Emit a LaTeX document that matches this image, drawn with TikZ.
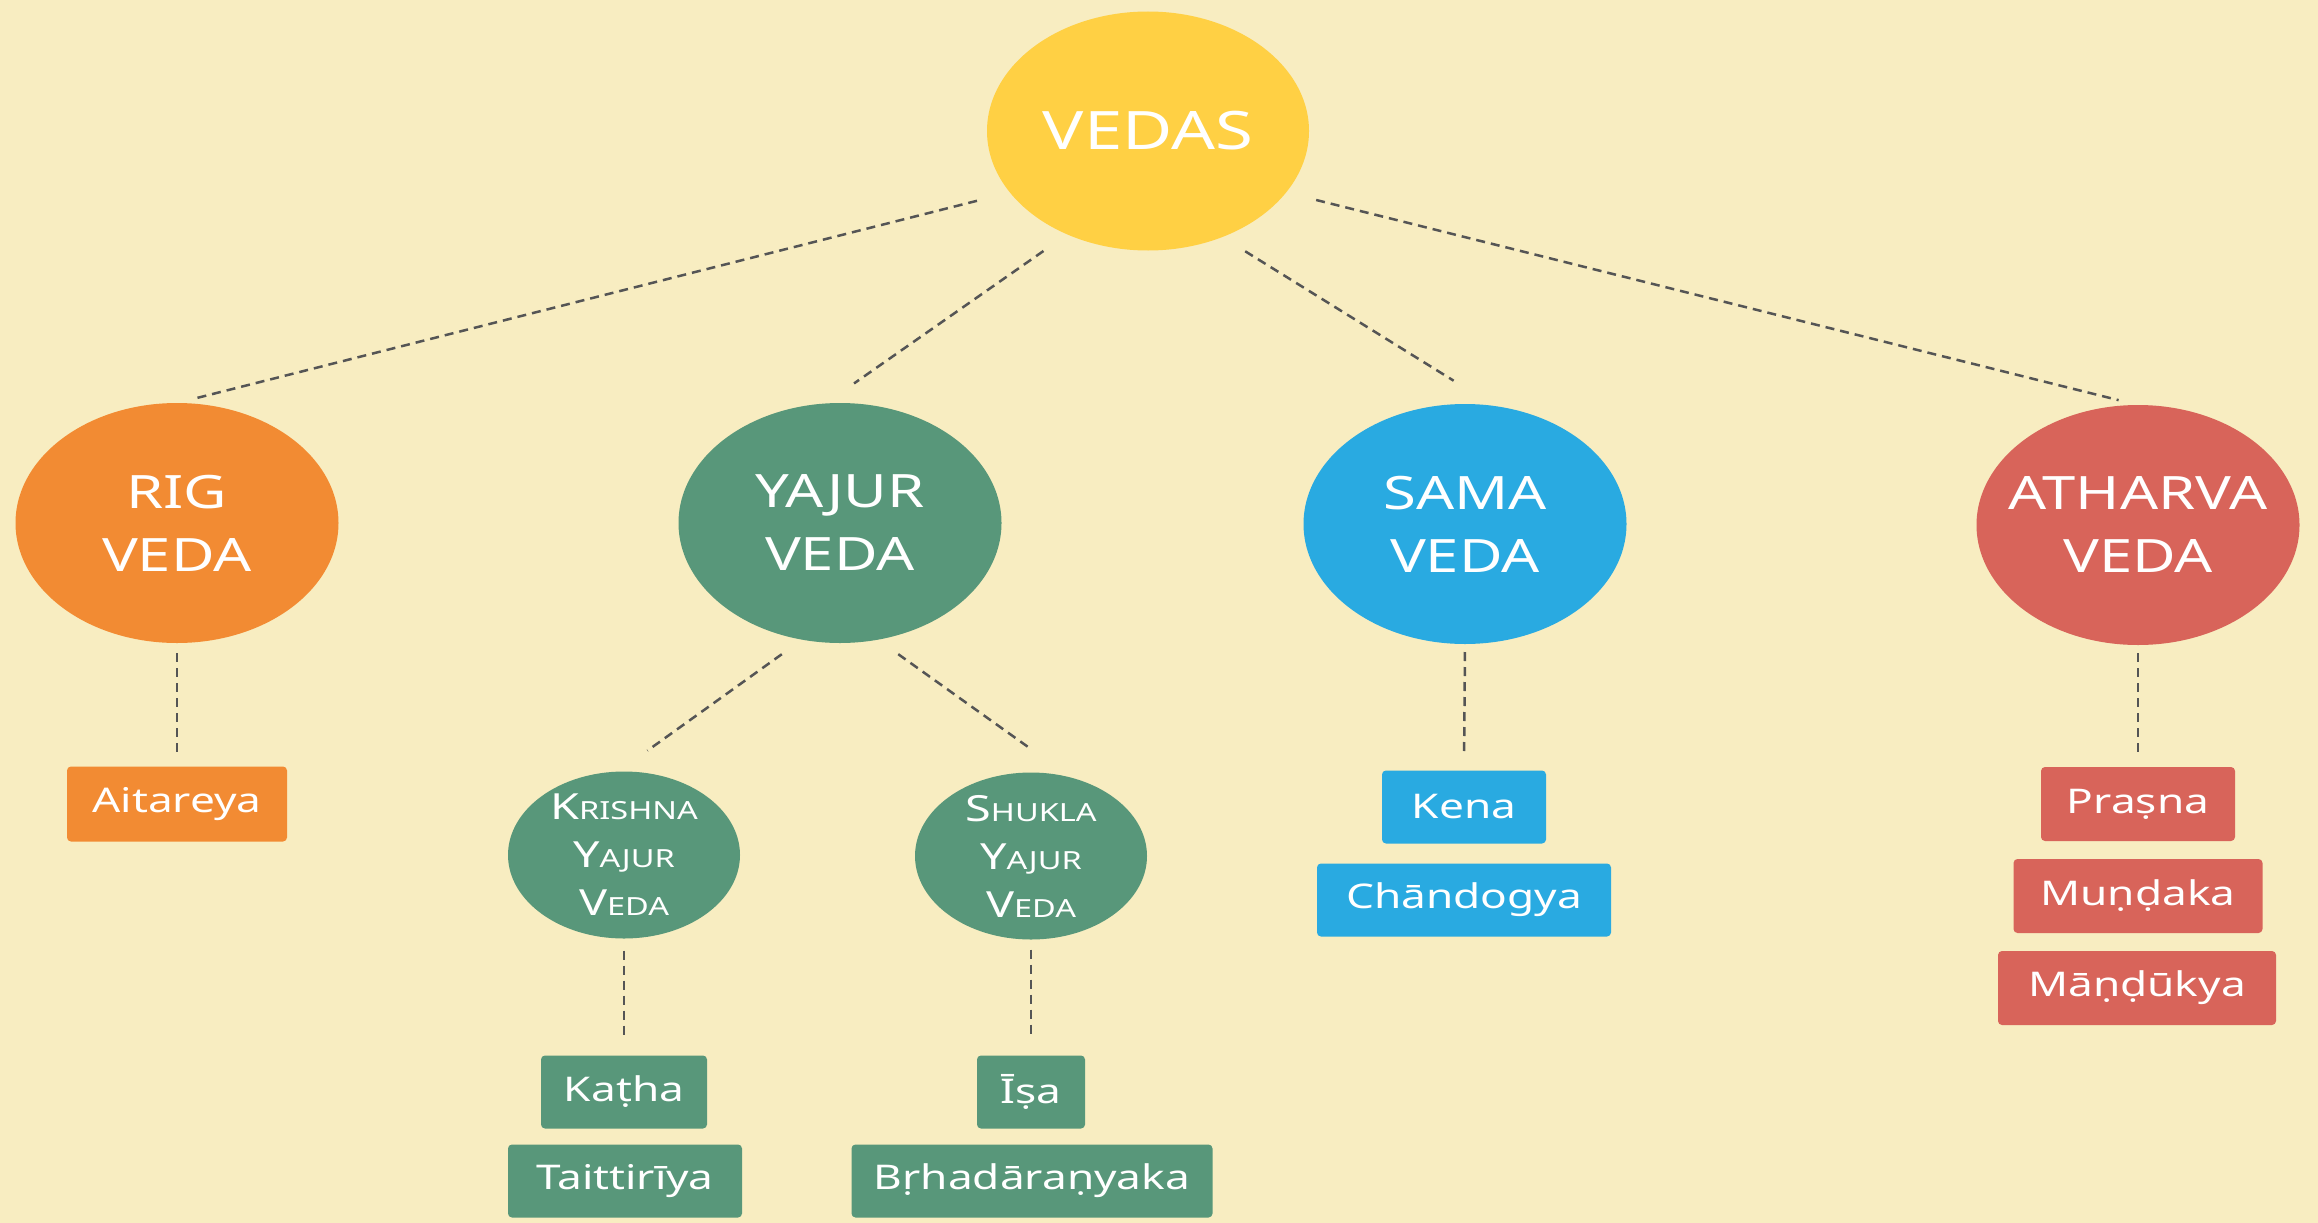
\documentclass[tikz,border=0pt]{standalone}
\usepackage{fontspec}
\setmainfont{Noto Sans}[FakeStretch=1.3]
\usetikzlibrary{shapes.geometric}
\definecolor{bgc}{HTML}{F8EDC1}
\definecolor{vyellow}{HTML}{FFD044}
\definecolor{rorange}{HTML}{F28B33}
\definecolor{ygreen}{HTML}{58977A}
\definecolor{sblue}{HTML}{29AAE1}
\definecolor{ared}{HTML}{D8645A}
\definecolor{dashc}{HTML}{555555}
\newcommand\capsm[2]{{\fontsize{36}{48}\selectfont #1}{\fontsize{25}{48}\selectfont #2}}
\begin{document}
\begin{tikzpicture}[x=1pt,y=-1pt,
  bignode/.style={ellipse, minimum width=323pt, minimum height=240pt, inner sep=-40pt, outer sep=0pt,
    text=white, align=center, font=\fontsize{46}{63}\selectfont},
  smallnode/.style={ellipse, minimum width=232pt, minimum height=167pt, inner sep=-30pt, outer sep=0pt,
    text=white, align=center, fill=ygreen, font=\fontsize{36}{48}\selectfont},
  boxnode/.style={rectangle, rounded corners=4pt, minimum height=73pt, inner sep=0pt, outer sep=0pt,
    text=white, font=\fontsize{34}{40}\selectfont},
  conn/.style={draw=dashc, line width=2.5pt, dash pattern=on 9pt off 6pt}
]
\fill[bgc] (0,0) rectangle (2318,1223);
\useasboundingbox (0,0) rectangle (2318,1223);

% main nodes
\node[bignode, fill=vyellow, minimum width=322pt, minimum height=239pt, font=\fontsize{53}{60}\selectfont] (vedas) at (1148,131) {VEDAS};
\node[bignode, fill=rorange] (rig) at (177,523) {RIG\\VEDA};
\node[bignode, fill=ygreen] (yajur) at (840,523) {YAJUR\\VEDA};
\node[bignode, fill=sblue] (sama) at (1465,524) {SAMA\\VEDA};
\node[bignode, fill=ared] (atharva) at (2138,525) {ATHARVA\\VEDA};

\node[smallnode] (krishna) at (624,855) {\capsm{K}{RISHNA}\\\capsm{Y}{AJUR}\\\capsm{V}{EDA}};
\node[smallnode] (shukla) at (1031,856) {\capsm{S}{HUKLA}\\\capsm{Y}{AJUR}\\\capsm{V}{EDA}};

% boxes
\node[boxnode, fill=rorange, minimum width=220pt, minimum height=75pt] (aitareya) at (177,804) {Aitareya};
\node[boxnode, fill=sblue, minimum width=164pt] (kena) at (1464,807) {Kena};
\node[boxnode, fill=sblue, minimum width=294pt] (chandogya) at (1464,900) {Chāndogya};
\node[boxnode, fill=ared, minimum width=194pt, minimum height=74pt] (prasna) at (2138,804) {Praṣna};
\node[boxnode, fill=ared, minimum width=249pt, minimum height=74pt] (mundaka) at (2138,896) {Muṇḍaka};
\node[boxnode, fill=ared, minimum width=278pt, minimum height=74pt] (mandukya) at (2137,988) {Māṇḍūkya};
\node[boxnode, fill=ygreen, minimum width=166pt] (katha) at (624,1092) {Kaṭha};
\node[boxnode, fill=ygreen, minimum width=234pt] (taitt) at (625,1181) {Taittirīya};
\node[boxnode, fill=ygreen, minimum width=108pt] (isa) at (1031,1092) {Īṣa};
\node[boxnode, fill=ygreen, minimum width=361pt] (brh) at (1032,1181) {Bṛhadāraṇyaka};

% connectors
\draw[conn, shorten <=34pt, shorten >=20pt] (vedas.204) -- (rig.north);
\draw[conn, shorten <=29pt, shorten >=35pt] (vedas.232) -- (yajur.97);
\draw[conn, shorten <=27pt, shorten >=48pt] (vedas.305) -- (sama.76);
\draw[conn, shorten <=31pt, shorten >=20pt] (vedas.336) -- (atharva.north);

\draw[conn, shorten <=25pt, shorten >=36pt] (yajur.252) -- (krishna.94);
\draw[conn, shorten <=25pt, shorten >=50pt] (yajur.288) -- (shukla.63);

\draw[conn, shorten <=10pt, shorten >=15pt] (rig.south) -- (aitareya.north);
\draw[conn, shorten <=8pt, shorten >=19pt] (sama.south) -- (kena.north);
\draw[conn, shorten <=8pt, shorten >=15pt] (atharva.south) -- (prasna.north);
\draw[conn, shorten <=12pt, shorten >=19pt] (krishna.south) -- (katha.north);
\draw[conn, shorten <=10pt, shorten >=19pt] (shukla.south) -- (isa.north);
\end{tikzpicture}
\end{document}
